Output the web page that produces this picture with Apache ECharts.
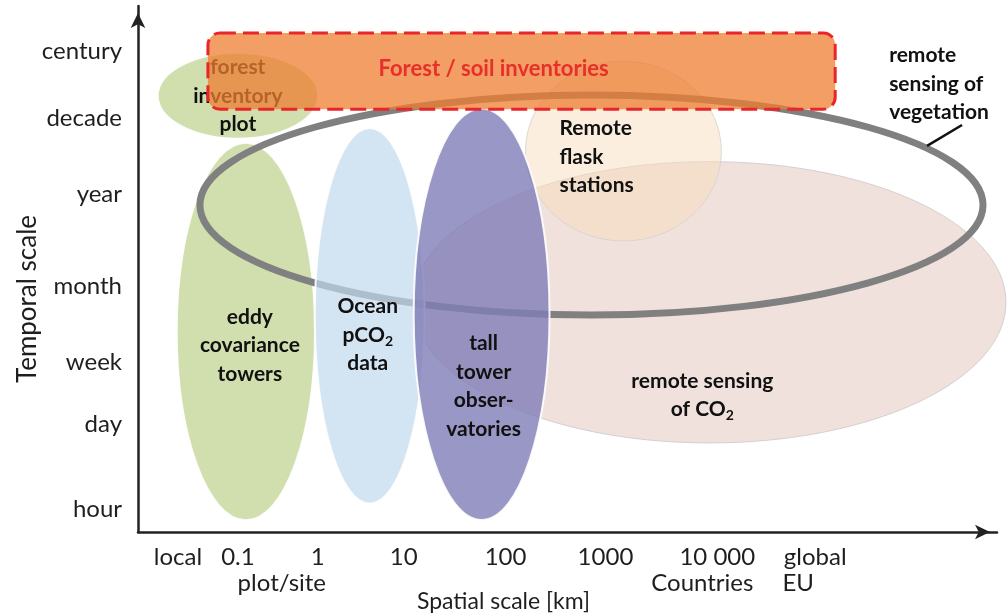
<!DOCTYPE html>
<html>
<head>
<meta charset="utf-8">
<script src="https://cdn.jsdelivr.net/npm/echarts@6/dist/echarts.min.js"></script>
<style>
html, body { margin: 0; background: #fff; }
#chart { width: 1007px; height: 616px; }
</style>
</head>
<body>
<div id="chart"></div>
<script>
// spatial axis in log10(km), temporal axis in arbitrary steps; tick places
var spatialLabels = ['local', '0.1', '1', '10', '100', '1000', '10 000', 'global'];
var spatialPos = [-1.4, -0.8, 0, 0.86, 1.88, 2.88, 4, 4.98];
var spatialGroups = ['plot/site', 'Countries', 'EU'];
var spatialGroupPos = [-0.36, 3.85, 4.81];
var temporalLabels = ['hour', 'day', 'week', 'month', 'year', 'decade', 'century'];
var temporalPos = [0.31, 1.44, 2.27, 3.28, 4.52, 5.53, 6.43];

// observation scopes, in drawing order
var scopeNames = ['remote sensing of CO2', 'Remote flask stations', 'forest inventory plot',
    'eddy covariance towers', 'remote sensing of vegetation', 'Ocean pCO2 data', 'tall tower observatories'];
var scopeX = [3.92, 3.06, -0.8, -0.72, 2.74, 0.52, 1.64];
var scopeY = [3.07, 5.09, 5.83, 2.68, 4.37, 2.89, 2.91];
var scopeRX = [2.97, 0.98, 0.8, 0.69, 3.92, 0.55, 0.68];
var scopeRY = [1.88, 1.2, 0.57, 2.52, 1.47, 2.51, 2.75];
var scopeText = ['remote sensing\nof CO{s|2}', 'Remote\nflask\nstations', 'forest\ninventory\nplot',
    'eddy\ncovariance\ntowers', 'remote\nsensing of\nvegetation', 'Ocean\npCO{s|2}\ndata', 'tall\ntower\nobser-\nvatories'];
var scopeTextX = [3.85, 2.42, -0.8, -0.68, 5.72, 0.5, 1.66];
var scopeTextY = [1.83, 5.01, 5.83, 2.49, 5.99, 2.63, 1.95];

var inventoryBox = [-1.1, 5.65, 5.18, 6.67];
var inventoryText = 'Forest / soil inventories';
var inventoryTextPos = [1.76, 6.19];
var vegetationPointer = [6.1, 5.16, 6.45, 5.44];

var scopeStyle = [
    {fill: 'rgba(230,200,192,0.55)', stroke: 'rgba(200,200,200,0.8)', width: 1, align: 'center'},
    {fill: 'rgba(248,222,190,0.5)', stroke: 'rgba(210,210,210,0.8)', width: 1, align: 'left'},
    {fill: 'rgba(190,210,140,0.7)', stroke: 'rgba(255,255,255,0.9)', width: 1.5, align: 'center'},
    {fill: 'rgba(190,210,140,0.7)', stroke: 'rgba(255,255,255,0.9)', width: 1.5, align: 'center'},
    {fill: 'none', stroke: '#808081', width: 7, align: 'left'},
    {fill: 'rgba(192,216,238,0.7)', stroke: 'rgba(255,255,255,0.9)', width: 2, align: 'center'},
    {fill: 'rgba(128,125,183,0.8)', stroke: 'rgba(255,255,255,0.9)', width: 2, align: 'center'}
];

var FONT = 'Lato';
var subRich = {s: {fontSize: 14, fontWeight: 'bold', fontFamily: FONT, fill: '#111', padding: [12, 0, 0, 0]}};

var chart = echarts.init(document.getElementById('chart'));

function renderScope(params, api) {
    var i = params.dataIndex;
    var st = scopeStyle[i];
    var c = api.coord([api.value(0), api.value(1)]);
    var s = api.size([api.value(2), api.value(3)]);
    var t = api.coord([api.value(4), api.value(5)]);
    var children = [{
        type: 'ellipse',
        shape: {cx: c[0], cy: c[1], rx: s[0], ry: s[1]},
        style: {fill: st.fill, stroke: st.stroke, lineWidth: st.width}
    }, {
        type: 'text',
        x: t[0], y: t[1],
        style: {
            text: scopeText[i], fill: '#111', fontSize: 21, fontWeight: 'bold', fontFamily: FONT,
            lineHeight: 28.5, align: st.align, verticalAlign: 'middle', rich: subRich
        }
    }];
    if (i === 4) {
        var p1 = api.coord([vegetationPointer[0], vegetationPointer[1]]);
        var p2 = api.coord([vegetationPointer[2], vegetationPointer[3]]);
        children.push({
            type: 'line',
            shape: {x1: p1[0], y1: p1[1], x2: p2[0], y2: p2[1]},
            style: {stroke: '#111', lineWidth: 2.5}
        });
    }
    return {type: 'group', children: children};
}

function renderInventory(params, api) {
    var a = api.coord([api.value(0), api.value(3)]);
    var b = api.coord([api.value(2), api.value(1)]);
    var t = api.coord([api.value(4), api.value(5)]);
    return {
        type: 'group',
        children: [{
            type: 'rect',
            shape: {x: a[0], y: a[1], width: b[0] - a[0], height: b[1] - a[1], r: 12},
            style: {fill: 'rgba(237,125,49,0.75)', stroke: '#e8262a', lineWidth: 3, lineDash: [16, 7]}
        }, {
            type: 'text',
            x: t[0], y: t[1],
            style: {
                text: inventoryText, fill: '#e8302a', fontSize: 22, fontWeight: 'bold', fontFamily: FONT,
                align: 'center', verticalAlign: 'middle'
            }
        }]
    };
}

var scopeData = scopeNames.map(function (n, i) {
    return {name: n, value: [scopeX[i], scopeY[i], scopeRX[i], scopeRY[i], scopeTextX[i], scopeTextY[i]]};
});

var labelStyle = {fontSize: 24, fontFamily: FONT, color: '#1e1e1e'};

option = {
    animation: false,
    grid: {left: 138, right: 10, top: 6, bottom: 84, outerBoundsMode: 'none'},
    xAxis: [
        {
            type: 'value', min: -1.8, max: 6.8,
            axisLine: {
                show: true, onZero: false, symbol: ['none', 'arrow'], symbolSize: [11, 15], symbolOffset: [0, -7],
                lineStyle: {color: '#222', width: 2.5}
            },
            axisTick: {show: false},
            splitLine: {show: false},
            axisLabel: Object.assign({
                customValues: spatialPos,
                margin: 13,
                formatter: function (v) { return spatialLabels[spatialPos.indexOf(v)]; }
            }, labelStyle),
            name: 'Spatial scale [km]',
            nameLocation: 'middle',
            nameGap: 58,
            nameMoveOverlap: false,
            nameTextStyle: {fontSize: 23, fontFamily: FONT, color: '#1e1e1e', padding: [0, 128, 0, 0]}
        },
        {
            type: 'value', min: -1.8, max: 6.8, position: 'bottom',
            axisLine: {show: false},
            axisTick: {show: false},
            splitLine: {show: false},
            axisLabel: Object.assign({
                customValues: spatialGroupPos,
                margin: 39,
                formatter: function (v) { return spatialGroups[spatialGroupPos.indexOf(v)]; }
            }, labelStyle)
        }
    ],
    yAxis: {
        type: 'value', min: 0, max: 7.03,
        axisLine: {
            show: true, onZero: false, symbol: ['none', 'arrow'], symbolSize: [11, 15], symbolOffset: [0, -7],
            lineStyle: {color: '#222', width: 2.5}
        },
        axisTick: {show: false},
        splitLine: {show: false},
        axisLabel: Object.assign({
            customValues: temporalPos,
            margin: 16,
            formatter: function (v) { return temporalLabels[temporalPos.indexOf(v)]; }
        }, labelStyle),
        name: 'Temporal scale',
        nameLocation: 'middle',
        nameRotate: 90,
        nameGap: 97,
        nameMoveOverlap: false,
        nameTextStyle: {fontSize: 26, fontFamily: FONT, color: '#1e1e1e', padding: [0, 60, 0, 0]}
    },
    series: [
        {
            name: 'scopes',
            type: 'custom',
            clip: false,
            renderItem: renderScope,
            encode: {x: 0, y: 1},
            data: scopeData
        },
        {
            name: 'inventories',
            type: 'custom',
            clip: false,
            renderItem: renderInventory,
            encode: {x: 0, y: 1},
            data: [[inventoryBox[0], inventoryBox[1], inventoryBox[2], inventoryBox[3], inventoryTextPos[0], inventoryTextPos[1]]]
        }
    ]
};

chart.setOption(option);
</script>
</body>
</html>
